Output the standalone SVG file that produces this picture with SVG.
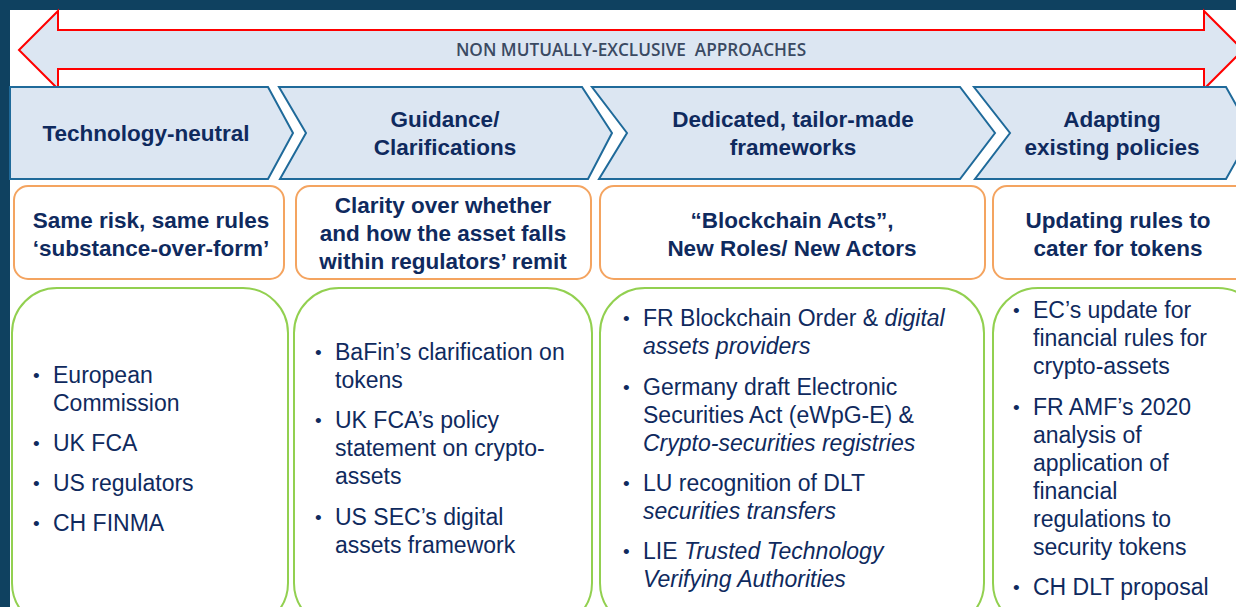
<svg xmlns="http://www.w3.org/2000/svg" width="1236" height="607" viewBox="0 0 1236 607">
<style>
.chev{fill:#dce6f2;stroke:#1f6a9a;stroke-width:2}
.obox{fill:#fff;stroke:#f4a460;stroke-width:2}
.gbox{fill:#fff;stroke:#92d050;stroke-width:2}
.h{font-family:"Liberation Sans",Arial,sans-serif;font-weight:bold;font-size:22.5px;fill:#0f2a5e;text-anchor:middle}
.t{font-family:"Liberation Sans",Arial,sans-serif;font-size:23px;fill:#0f2a5e}
.b{font-size:19px}
.i{font-style:italic}
</style>
<rect x="0" y="0" width="1236" height="607" fill="#0f4160"/>
<rect x="10" y="10" width="1226" height="597" fill="#fff"/>
<g id="double-arrow">
<polygon points="19,50 58,11 58,30 1204,30 1204,11 1243,50 1204,89 1204,69 58,69 58,89" fill="#dce6f2" stroke="#ff0000" stroke-width="2"/>
<text x="631" y="56" font-family="'Open Sans','Liberation Sans',sans-serif" font-weight="600" font-size="17.2" fill="#3a4a62" text-anchor="middle" xml:space="preserve">NON MUTUALLY-EXCLUSIVE  APPROACHES</text>
</g>
<g id="chevron-1">
<polygon class="chev" points="10,87 268,87 293,133 268,179 10,179"/>
<text class="h" x="146" y="141">Technology-neutral</text>
</g>
<g id="chevron-2">
<polygon class="chev" points="279,87 582,87 612,133 588,179 280,179 306,133"/>
<text class="h" x="445" y="127">Guidance/</text>
<text class="h" x="445" y="155">Clarifications</text>
</g>
<g id="chevron-3">
<polygon class="chev" points="592,87 960,87 995,133 960,179 599,179 627,133"/>
<text class="h" x="793" y="127">Dedicated, tailor-made</text>
<text class="h" x="793" y="155">frameworks</text>
</g>
<g id="chevron-4">
<polygon class="chev" points="974,87 1226,87 1252,133 1226,179 975,179 1010,133"/>
<text class="h" x="1112" y="127">Adapting</text>
<text class="h" x="1112" y="155">existing policies</text>
</g>
<g id="principle-1">
<rect class="obox" x="14" y="186" width="270" height="93" rx="14"/>
<text class="h" x="151" y="228">Same risk, same rules</text>
<text class="h" x="151" y="256">‘substance-over-form’</text>
</g>
<g id="principle-2">
<rect class="obox" x="296" y="186" width="295" height="93" rx="14"/>
<text class="h" x="443" y="213">Clarity over whether</text>
<text class="h" x="443" y="241">and how the asset falls</text>
<text class="h" x="443" y="269">within regulators’ remit</text>
</g>
<g id="principle-3">
<rect class="obox" x="600" y="186" width="385" height="93" rx="14"/>
<text class="h" x="792" y="228">“Blockchain Acts”,</text>
<text class="h" x="792" y="256">New Roles/ New Actors</text>
</g>
<g id="principle-4">
<rect class="obox" x="993" y="186" width="260" height="93" rx="14"/>
<text class="h" x="1118" y="228">Updating rules to</text>
<text class="h" x="1118" y="256">cater for tokens</text>
</g>
<g id="examples-1">
<rect class="gbox" x="12" y="288" width="276" height="340" rx="45"/>
<g class="t">
<text class="b" x="33" y="382">•</text><text x="53" y="383">European</text>
<text x="53" y="411">Commission</text>
<text class="b" x="33" y="450">•</text><text x="53" y="451">UK FCA</text>
<text class="b" x="33" y="490">•</text><text x="53" y="491">US regulators</text>
<text class="b" x="33" y="530">•</text><text x="53" y="531">CH FINMA</text>
</g>
</g>
<g id="examples-2">
<rect class="gbox" x="294" y="288" width="298" height="340" rx="45"/>
<g class="t">
<text class="b" x="315" y="359">•</text><text x="335" y="360">BaFin’s clarification on</text>
<text x="335" y="388">tokens</text>
<text class="b" x="315" y="427">•</text><text x="335" y="428">UK FCA’s policy</text>
<text x="335" y="456">statement on crypto-</text>
<text x="335" y="484">assets</text>
<text class="b" x="315" y="524">•</text><text x="335" y="525">US SEC’s digital</text>
<text x="335" y="553">assets framework</text>
</g>
</g>
<g id="examples-3">
<rect class="gbox" x="600" y="288" width="384" height="340" rx="45"/>
<g class="t">
<text class="b" x="623" y="325">•</text><text x="643" y="326">FR Blockchain Order &amp; <tspan class="i">digital</tspan></text>
<text class="t i" x="643" y="354">assets providers</text>
<text class="b" x="623" y="394">•</text><text x="643" y="395">Germany draft Electronic</text>
<text x="643" y="423">Securities Act (eWpG-E) &amp;</text>
<text class="t i" x="643" y="451">Crypto-securities registries</text>
<text class="b" x="623" y="490">•</text><text x="643" y="491">LU recognition of DLT</text>
<text class="t i" x="643" y="519">securities transfers</text>
<text class="b" x="623" y="558">•</text><text x="643" y="559">LIE <tspan class="i">Trusted Technology</tspan></text>
<text class="t i" x="643" y="587">Verifying Authorities</text>
</g>
</g>
<g id="examples-4">
<rect class="gbox" x="993" y="288" width="270" height="340" rx="45"/>
<g class="t">
<text class="b" x="1013" y="317">•</text><text x="1033" y="318">EC’s update for</text>
<text x="1033" y="346">financial rules for</text>
<text x="1033" y="374">crypto-assets</text>
<text class="b" x="1013" y="414">•</text><text x="1033" y="415">FR AMF’s 2020</text>
<text x="1033" y="443">analysis of</text>
<text x="1033" y="471">application of</text>
<text x="1033" y="499">financial</text>
<text x="1033" y="527">regulations to</text>
<text x="1033" y="555">security tokens</text>
<text class="b" x="1013" y="594">•</text><text x="1033" y="595">CH DLT proposal</text>
</g>
</g>
</svg>
